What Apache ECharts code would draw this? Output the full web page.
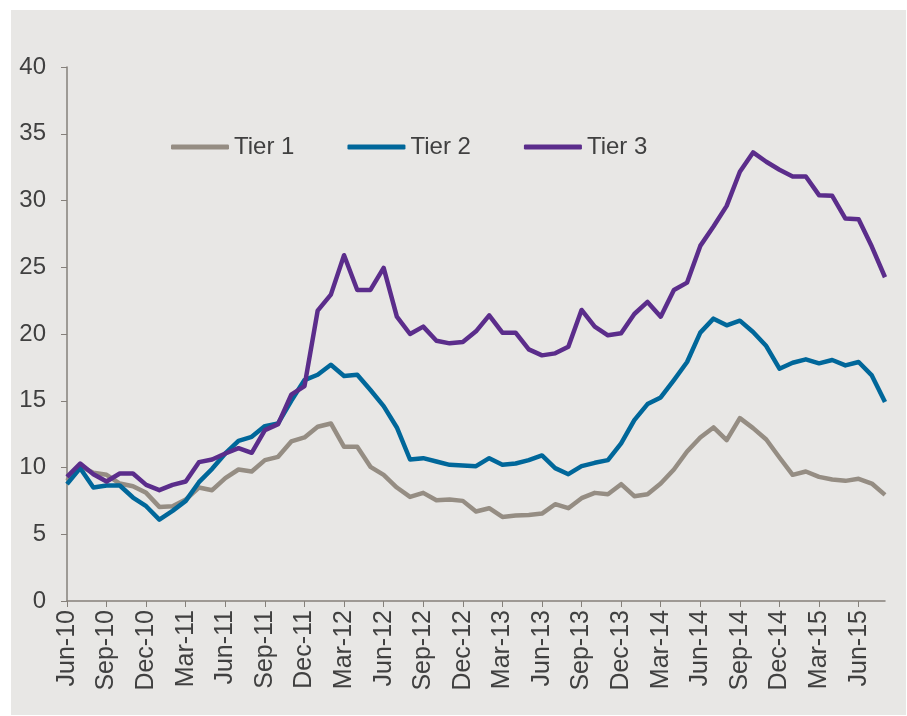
<!DOCTYPE html>
<html>
<head>
	<meta charset="utf-8">
	<title>Tier 1 / Tier 2 / Tier 3</title>
	<script src="https://cdn.jsdelivr.net/npm/echarts@6/dist/echarts.min.js"></script>
	<style>
		html, body { margin: 0; padding: 0; background: #ffffff; }
	</style>
</head>
<body>
	<div id="main" style="width: 907px;height: 716px;"></div>
<script type="text/javascript">
	// months Jun-10 .. Aug-15
	var months = ['Jun-10','Jul-10','Aug-10','Sep-10','Oct-10','Nov-10','Dec-10','Jan-11','Feb-11','Mar-11','Apr-11','May-11',
		'Jun-11','Jul-11','Aug-11','Sep-11','Oct-11','Nov-11','Dec-11','Jan-12','Feb-12','Mar-12','Apr-12','May-12',
		'Jun-12','Jul-12','Aug-12','Sep-12','Oct-12','Nov-12','Dec-12','Jan-13','Feb-13','Mar-13','Apr-13','May-13',
		'Jun-13','Jul-13','Aug-13','Sep-13','Oct-13','Nov-13','Dec-13','Jan-14','Feb-14','Mar-14','Apr-14','May-14',
		'Jun-14','Jul-14','Aug-14','Sep-14','Oct-14','Nov-14','Dec-14','Jan-15','Feb-15','Mar-15','Apr-15','May-15',
		'Jun-15','Jul-15','Aug-15'];

	var tier1 = [9.0, 10.1, 9.6, 9.45, 8.8, 8.6, 8.1, 7.05, 7.1, 7.6, 8.5, 8.3,
		9.2, 9.85, 9.7, 10.55, 10.8, 11.95, 12.25, 13.05, 13.3, 11.55, 11.55, 10.05,
		9.45, 8.5, 7.8, 8.1, 7.55, 7.6, 7.5, 6.7, 6.95, 6.3, 6.4, 6.45,
		6.55, 7.25, 6.95, 7.7, 8.1, 8.0, 8.75, 7.85, 8.0, 8.8, 9.85, 11.2,
		12.25, 13.0, 12.05, 13.7, 12.95, 12.1, 10.75, 9.45, 9.7, 9.3, 9.1, 9.0,
		9.15, 8.8, 7.95];

	var tier2 = [8.75, 9.95, 8.5, 8.65, 8.65, 7.75, 7.1, 6.1, 6.75, 7.5, 8.9, 9.9,
		11.05, 12.0, 12.3, 13.1, 13.3, 15.0, 16.55, 16.95, 17.7, 16.85, 16.95, 15.8,
		14.6, 13.0, 10.6, 10.7, 10.45, 10.2, 10.15, 10.1, 10.7, 10.2, 10.3, 10.55,
		10.9, 9.95, 9.5, 10.1, 10.35, 10.55, 11.8, 13.55, 14.75, 15.25, 16.55, 17.9,
		20.1, 21.15, 20.65, 21.0, 20.15, 19.1, 17.4, 17.85, 18.1, 17.8, 18.05, 17.65,
		17.9, 16.9, 14.9];

	var tier3 = [9.3, 10.3, 9.5, 8.95, 9.55, 9.55, 8.7, 8.3, 8.7, 8.95, 10.4, 10.6,
		11.05, 11.45, 11.1, 12.8, 13.25, 15.45, 16.1, 21.75, 22.95, 25.9, 23.3, 23.3,
		24.95, 21.3, 20.0, 20.55, 19.5, 19.3, 19.4, 20.2, 21.4, 20.1, 20.1, 18.85,
		18.4, 18.55, 19.05, 21.8, 20.55, 19.9, 20.05, 21.5, 22.4, 21.3, 23.3, 23.85,
		26.6, 28.05, 29.6, 32.15, 33.6, 32.9, 32.3, 31.8, 31.8, 30.4, 30.35, 28.65,
		28.6, 26.55, 24.25];

	var seriesNames = ['Tier 1', 'Tier 2', 'Tier 3'];
	var seriesColors = ['#958d83', '#00679a', '#5b2d8b'];
	var seriesData = [tier1, tier2, tier3];

	var textColor = '#404040';
	var axisColor = '#85807a';
	var fontName = 'Liberation Sans, Arial, sans-serif';

	var myChart = echarts.init(document.getElementById('main'));

	var series = [];
	for (var i = 0; i < seriesNames.length; i++) {
		series.push({
			name: seriesNames[i],
			type: 'line',
			data: seriesData[i],
			symbol: 'none',
			smooth: false,
			lineStyle: { width: 4.5, color: seriesColors[i], join: 'round' },
			itemStyle: { color: seriesColors[i] }
		});
	}

	var option = {
		animation: false,
		backgroundColor: '#ffffff',
		//灰色底
		graphic: [{
			type: 'rect',
			z: -10,
			silent: true,
			shape: { x: 11, y: 10, width: 895, height: 705 },
			style: { fill: '#e8e7e5' }
		}],
		legend: {
			data: seriesNames,
			left: 166,
			top: 130,
			icon: 'roundRect',
			itemWidth: 58,
			itemHeight: 5,
			itemGap: 53,
			textStyle: {
				fontFamily: fontName,
				fontSize: 24,
				color: textColor
			}
		},
		grid: {
			left: 67,
			right: 22,
			top: 67,
			bottom: 115,
			containLabel: false
		},
		xAxis: {
			type: 'category',
			boundaryGap: false,
			data: months,
			axisLine: { show: true, lineStyle: { color: axisColor, width: 1.5 } },
			axisTick: { show: true, interval: 2, length: 6, lineStyle: { color: axisColor } },
			axisLabel: {
				interval: 2,
				rotate: 90,
				margin: 9,
				color: textColor,
				fontFamily: fontName,
				fontSize: 25
			},
			splitLine: { show: false }
		},
		yAxis: {
			type: 'value',
			min: 0,
			max: 40,
			interval: 5,
			axisLine: { show: true, lineStyle: { color: axisColor, width: 1.5 } },
			axisTick: { show: true, length: 6, lineStyle: { color: axisColor } },
			axisLabel: {
				margin: 21,
				color: textColor,
				fontFamily: fontName,
				fontSize: 24
			},
			splitLine: { show: false }
		},
		series: series
	};
	myChart.setOption(option);
</script>
</body>
</html>
